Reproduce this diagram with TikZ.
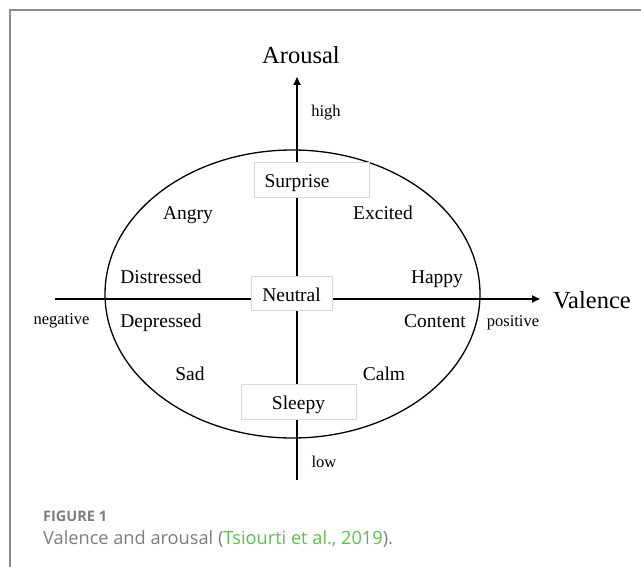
\documentclass[tikz,border=0pt]{standalone}
\usepackage{fontspec}
\setmainfont{Liberation Serif}
\newfontfamily\capfont{Open Sans}
\usetikzlibrary{arrows.meta,shapes.geometric}
\definecolor{framegray}{RGB}{140,140,140}
\definecolor{boxgray}{RGB}{215,215,215}
\definecolor{capgray}{RGB}{125,125,125}
\definecolor{capgreen}{RGB}{98,186,80}
\tikzset{
  axis/.style={line width=1.8pt},
  arrowaxis/.style={axis,-{Triangle[length=8pt,width=7pt]}},
  emo/.style={font=\fontsize{19.5}{22}\selectfont, inner sep=0pt, text height=13pt, text depth=4.5pt},
  small/.style={font=\fontsize{16.5}{19}\selectfont, inner sep=0pt, text height=11.5pt, text depth=4pt},
  title/.style={font=\fontsize{24.5}{28}\selectfont, inner sep=0pt},
  emobox/.style={draw=boxgray, line width=0.8pt, fill=white, inner sep=0pt, font=\fontsize{19.5}{22}\selectfont},
}
\begin{document}
\begin{tikzpicture}[x=1pt,y=-1pt]
\useasboundingbox (0,0) rectangle (641,567);
% frame
\draw[framegray, line width=1.6pt] (10,567) -- (10,10) -- (641,10);
% ellipse
\node[draw, line width=1.3pt, ellipse, minimum width=375pt, minimum height=288pt, inner sep=0pt] (circ) at (292.5,294) {};
% axes coordinates
\coordinate (vtop) at (297,77);
\coordinate (vbot) at (297,480);
\coordinate (hleft) at (55,299);
\coordinate (hright) at (540,299);
\draw[arrowaxis] (vbot) -- (vtop);
\draw[arrowaxis] (hleft) -- (hright);
% boxes
\node[emobox, minimum width=115pt, minimum height=35pt] (surprise) at (311.5,179.5) {};
\node[emobox, minimum width=81pt, minimum height=34pt] (neutral) at (291.5,293) {};
\node[emobox, minimum width=115pt, minimum height=35pt] (sleepy) at (298.5,401.5) {};
\node[emo] (surprisetxt) at (297,183) {Surprise};
\node[emo] (neutraltxt) at (291.5,297) {Neutral};
\node[emo] (sleepytxt) at (298.5,405) {Sleepy};
% titles
\node[title] (arousal) at (301,55) {Arousal};
\node[title] (valence) at (592,300) {Valence};
% small labels
\node[small] (high) at (326,113) {high};
\node[small] (low) at (324,464) {low};
\node[small] (negative) at (61.5,321) {negative};
\node[small] (positive) at (513,323) {positive};
% emotions
\node[emo] (angry) at (188,215) {Angry};
\node[emo] (excited) at (383,215) {Excited};
\node[emo] (distressed) at (161,279) {Distressed};
\node[emo] (happy) at (437,279) {Happy};
\node[emo] (depressed) at (161,323) {Depressed};
\node[emo] (content) at (435,323) {Content};
\node[emo] (sad) at (190,376) {Sad};
\node[emo] (calm) at (384,376) {Calm};
% caption
\node[anchor=west, inner sep=0pt, text=capgray, font=\capfont\fontsize{14.5}{16}\selectfont\bfseries] (fig) at (43,516) {FIGURE 1};
\node[anchor=west, inner sep=0pt, text=capgray, font=\capfont\fontsize{18.2}{21}\selectfont] (cap) at (43,539) {Valence and arousal (\textcolor{capgreen}{Tsiourti et al., 2019}).};
\end{tikzpicture}
\end{document}
